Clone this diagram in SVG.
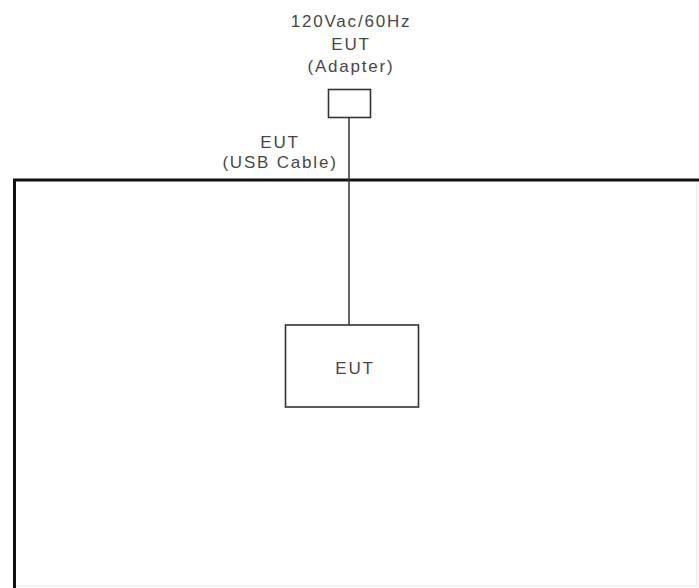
<svg xmlns="http://www.w3.org/2000/svg" width="699" height="588" viewBox="0 0 699 588">
<style>
text{font-family:"Liberation Sans",Arial,sans-serif;font-size:17px;letter-spacing:1.8px;fill:#474747;text-anchor:middle}
.box{fill:#fff;stroke:#333;stroke-width:1.6}
.wire{stroke:#333;stroke-width:1.5;fill:none}
.table{stroke:#111;stroke-width:3;fill:none}
</style>
<rect width="699" height="588" fill="#fff"/>
<g id="table">
<path class="table" d="M14.5,588 V180 H699"/>
<path d="M697,182 V586 H16" stroke="#e6e6e6" stroke-width="1" fill="none"/>
</g>
<g id="connectors">
<line class="wire" x1="349" y1="118" x2="349" y2="325"/>
</g>
<g id="adapter">
<rect class="box" x="328.5" y="89.5" width="42" height="28"/>
<text x="351" y="27">120Vac/60Hz</text>
<text x="351" y="50">EUT</text>
<text x="351" y="72">(Adapter)</text>
</g>
<g id="usb-label">
<text x="280" y="148">EUT</text>
<text x="280" y="168">(USB Cable)</text>
</g>
<g id="eut">
<rect class="box" x="285.5" y="325" width="133" height="82"/>
<text x="355" y="374">EUT</text>
</g>
</svg>
